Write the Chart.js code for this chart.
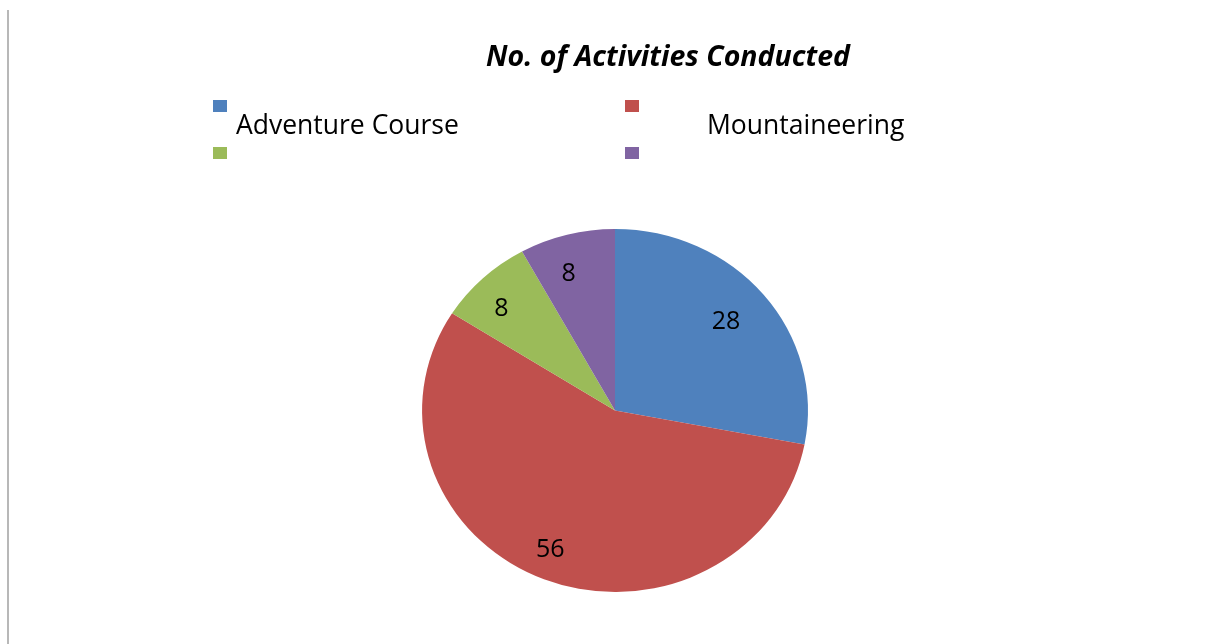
<!DOCTYPE html>
<html>
<head>
<meta charset="utf-8">
<script src="https://cdn.jsdelivr.net/npm/chart.js@4/dist/chart.umd.min.js"></script>
<style>
  html, body { margin: 0; padding: 0; background: #fff; }
  #wrap { position: relative; width: 1210px; height: 644px; overflow: hidden; }
  #edge { position: absolute; left: 7px; top: 10px; width: 2px; height: 640px; background: #b8b8b8; }
  canvas { position: absolute; left: 0; top: 0; }
</style>
</head>
<body>
<div id="wrap">
  <div id="edge"></div>
  <canvas id="c" width="1210" height="644"></canvas>
</div>
<script>
const titleText = "No. of Activities Conducted";
const categories = ["Adventure Course", "Mountaineering", "Holiday Camp for School Students", "Others"];
const values = [28, 56, 8, 8];
const colors = ["#4F81BD", "#C0504D", "#9BBB59", "#8064A2"];

const STRETCH_X = 1.063;

const overlay = {
  id: 'overlay',
  beforeDatasetsDraw(chart) {
    const ctx = chart.ctx;
    const cx = (chart.chartArea.left + chart.chartArea.right) / 2;
    ctx.save();
    ctx.translate(cx, 0);
    ctx.scale(STRETCH_X, 1);
    ctx.translate(-cx, 0);
  },
  afterDatasetsDraw(chart) {
    chart.ctx.restore();
  },
  afterDraw(chart) {
    const ctx = chart.ctx;
    ctx.save();
    // title
    ctx.fillStyle = '#000';
    ctx.font = 'italic bold 28.5px "Open Sans", "DejaVu Sans", sans-serif';
    ctx.textAlign = 'center';
    ctx.textBaseline = 'alphabetic';
    ctx.fillText(titleText, 668, 66);

    // legend (clipped like the reference)
    ctx.save();
    ctx.beginPath();
    ctx.rect(0, 0, 1210, 170);
    ctx.clip();
    const items = chart.data.labels;
    const ds = chart.data.datasets[0];
    const pos = [
      {bx: 213, by: 100, tx: 236, ty: 134},
      {bx: 625, by: 100, tx: 707, ty: 134},
      {bx: 213, by: 147, tx: 236, ty: 198},
      {bx: 625, by: 147, tx: 707, ty: 198}
    ];
    ctx.textAlign = 'left';
    ctx.font = '26.5px "Open Sans", "DejaVu Sans", sans-serif';
    items.forEach((lab, i) => {
      const p = pos[i];
      ctx.fillStyle = ds.backgroundColor[i];
      ctx.fillRect(p.bx, p.by, 14, 12);
      ctx.fillStyle = '#000';
      ctx.fillText(lab, p.tx, p.ty);
    });
    ctx.restore();

    // data labels
    const meta = chart.getDatasetMeta(0);
    ctx.font = '25px "Open Sans", "DejaVu Sans", sans-serif';
    ctx.textAlign = 'center';
    ctx.textBaseline = 'middle';
    ctx.fillStyle = '#000';
    meta.data.forEach((arc, i) => {
      const p = arc.getProps(['x', 'y', 'startAngle', 'endAngle', 'outerRadius'], true);
      const mid = (p.startAngle + p.endAngle) / 2;
      const rr = p.outerRadius * 0.8;
      ctx.fillText(String(ds.data[i]), p.x - 8 + Math.cos(mid) * rr * STRETCH_X, p.y + 4 + Math.sin(mid) * rr);
    });
    ctx.restore();
  }
};

new Chart(document.getElementById('c'), {
  type: 'pie',
  data: {
    labels: categories,
    datasets: [{
      data: values,
      backgroundColor: colors,
      borderWidth: 0
    }]
  },
  options: {
    responsive: false,
    animation: false,
    layout: { padding: { top: 229, bottom: 52, left: 20, right: 0 } },
    plugins: {
      legend: { display: false },
      title: { display: false },
      tooltip: { enabled: false }
    }
  },
  plugins: [overlay]
});
</script>
</body>
</html>
